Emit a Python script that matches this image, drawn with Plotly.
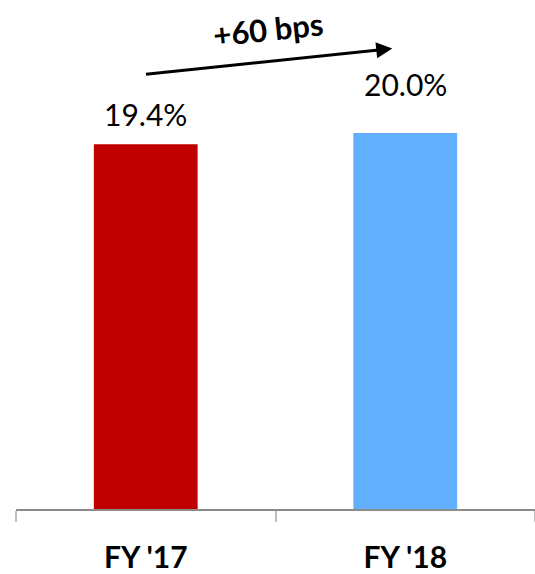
import plotly.graph_objects as go

categories = ["FY '17", "FY '18"]
values = [19.4, 20.0]
value_labels = ["19.4%", "20.0%"]
bar_colors = ["#C00000", "#62AEFF"]
change_label = "+60 bps"

label_shift = [30, 49]

fig = go.Figure()
fig.add_trace(go.Bar(
    x=categories, y=values, marker=dict(color=bar_colors, line=dict(width=0)),
    width=0.4, hoverinfo="skip",
))

for i, (c, v, t) in enumerate(zip(categories, values, value_labels)):
    fig.add_annotation(
        x=c, y=v, text=t, showarrow=False, xref="x", yref="y",
        yanchor="middle", yshift=label_shift[i],
        font=dict(family="Lato", size=30, color="#000000"),
    )

# arrow
fig.add_annotation(
    x=0.95, y=24.5, ax=-0.005, ay=23.12, xref="x", yref="y", axref="x", ayref="y",
    text="", showarrow=True, arrowhead=2, arrowsize=1.07, arrowwidth=3,
    arrowcolor="#000000", standoff=0,
)
fig.add_annotation(
    x=0.472, y=25.55, xref="x", yref="y", text="<b>" + change_label + "</b>",
    showarrow=False, textangle=-6,
    font=dict(family="Lato", size=31, color="#000000"),
)

fig.update_layout(
    width=535, height=574,
    margin=dict(l=16, r=0, t=0, b=56),
    paper_bgcolor="white", plot_bgcolor="white",
    showlegend=False, bargap=0.6,
    xaxis=dict(
        showline=True, linecolor="#8C8C8C", linewidth=1.5,
        ticks="outside", tickson="boundaries", ticklen=11, tickcolor="#BFBFBF", tickwidth=1.5,
        tickfont=dict(family="Lato", size=30, color="#000000"),
        ticklabelstandoff=21,
        tickvals=categories, ticktext=["<b>" + c + "</b>" for c in categories],
        showgrid=False, zeroline=False, fixedrange=True,
    ),
    yaxis=dict(range=[0, 27.08], visible=False, showgrid=False, zeroline=False, fixedrange=True),
)

fig.write_html("out.html")
